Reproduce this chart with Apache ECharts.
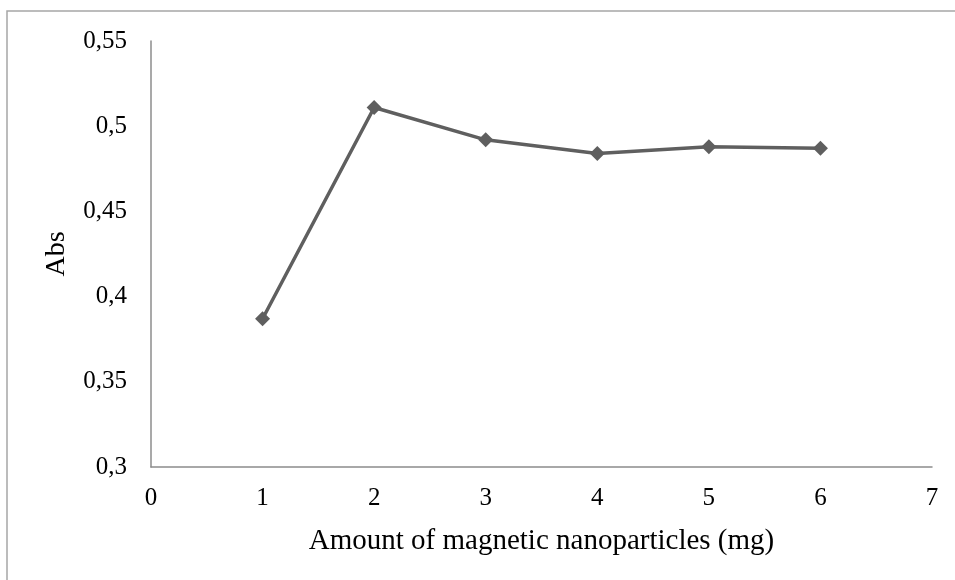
<!DOCTYPE html>
<html>
<head>
    <meta charset="utf-8">
    <title>Abs vs amount of nanoparticles</title>
    <script src="https://cdn.jsdelivr.net/npm/echarts@6/dist/echarts.min.js"></script>
    <style>
        html, body { margin: 0; padding: 0; background: #ffffff; }
        #chart { width: 955px; height: 580px; }
    </style>
</head>
<body>
<div id="chart"></div>
<script>
    // data
    var amounts = [1, 2, 3, 4, 5, 6];
    var absValues = [0.387, 0.511, 0.492, 0.484, 0.488, 0.487];
    var yTicks = [0.3, 0.35, 0.4, 0.45, 0.5, 0.55];

    var points = amounts.map(function (a, i) { return [a, absValues[i]]; });
    var serif = '"Liberation Serif", "Times New Roman", serif';

    var chart = echarts.init(document.getElementById('chart'));
    var option = {
        animation: false,
        backgroundColor: '#ffffff',
        graphic: [
            {
                type: 'rect',
                shape: { x: 7, y: 11, width: 1000, height: 700 },
                style: { fill: 'none', stroke: '#a6a6a6', lineWidth: 1.5 },
                silent: true
            }
        ],
        grid: { left: 151, top: 41, right: 23, bottom: 113 },
        xAxis: {
            type: 'value',
            min: 0,
            max: 7,
            interval: 1,
            name: 'Amount of magnetic nanoparticles (mg)',
            nameLocation: 'middle',
            nameGap: 60,
            nameTextStyle: { fontFamily: serif, fontSize: 29, color: '#000' },
            axisLine: { lineStyle: { color: '#8c8c8c', width: 1.5 } },
            axisTick: { show: false },
            splitLine: { show: false },
            axisLabel: { fontFamily: serif, fontSize: 25, color: '#000', margin: 19 }
        },
        yAxis: {
            type: 'value',
            min: yTicks[0],
            max: yTicks[yTicks.length - 1],
            interval: 0.05,
            name: 'Abs',
            nameLocation: 'middle',
            nameGap: 80,
            nameRotate: 90,
            nameTextStyle: { fontFamily: serif, fontSize: 28, color: '#000' },
            axisLine: { show: true, lineStyle: { color: '#8c8c8c', width: 1.5 } },
            axisTick: { show: false },
            splitLine: { show: false },
            axisLabel: {
                fontFamily: serif, fontSize: 25, color: '#000', margin: 24,
                formatter: function (v) { return String(+v.toFixed(2)).replace('.', ','); }
            }
        },
        series: [
            {
                type: 'line',
                data: points,
                symbol: 'diamond',
                symbolSize: 15,
                itemStyle: { color: '#5f5f5f' },
                lineStyle: { color: '#5f5f5f', width: 3.5 }
            }
        ]
    };
    chart.setOption(option);
</script>
</body>
</html>
